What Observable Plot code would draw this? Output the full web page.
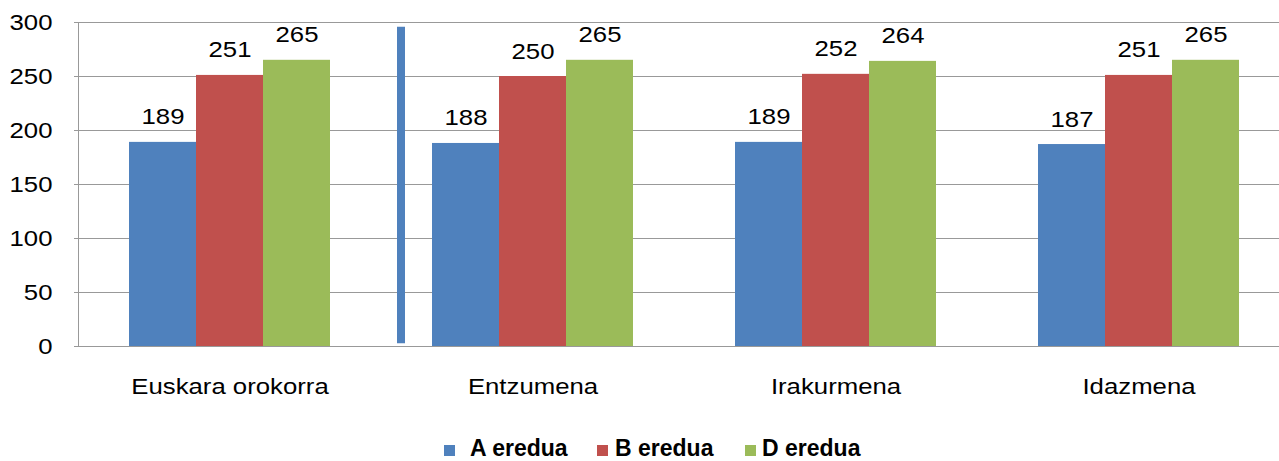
<!DOCTYPE html>
<html><head><meta charset="utf-8">
<script src="https://cdn.jsdelivr.net/npm/d3@7"></script>
<script src="https://cdn.jsdelivr.net/npm/@observablehq/plot@0.6"></script>
<style>
html,body{margin:0;padding:0;background:#fff;overflow:hidden;width:1279px;height:461px;}
#chart{position:absolute;left:0;top:0;width:1290px;}
#chart svg{max-width:none !important;}
#legend{position:absolute;left:0;top:430px;width:1279px;height:31px;font-family:"Liberation Sans",Arial,sans-serif;font-weight:bold;font-size:23px;color:#000;}
.sw{position:absolute;top:15px;width:11px;height:11px;}
.lt{position:absolute;top:5px;line-height:26px;white-space:nowrap;}
</style></head><body>
<div id="chart"></div><div id="legend"></div>
<script>
const groups = ["Euskara orokorra", "Entzumena", "Irakurmena", "Idazmena"];
const seriesNames = ["A eredua", "B eredua", "D eredua"];
const valuesA = [189, 188, 189, 187];
const valuesB = [251, 250, 252, 251];
const valuesD = [265, 265, 264, 265];
const colors = ["#4f81bd", "#c0504d", "#9bbb59"];
const yTicks = [0, 50, 100, 150, 200, 250, 300];
const separator = [{group: "Entzumena", from: 2.5, to: 295.5}];

const rows = [];
[valuesA, valuesB, valuesD].forEach((vals, si) =>
  vals.forEach((v, gi) => rows.push({group: groups[gi], series: seriesNames[si], value: v})));

const gray = "#999999";
const chart = Plot.plot({
  width: 1290, height: 425,
  marginLeft: 78, marginRight: 0, marginTop: 22, marginBottom: 79,
  style: {fontFamily: '"Liberation Sans", Arial, sans-serif', fontSize: "23px", color: "#000", background: "#fff", overflow: "visible", maxWidth: "none"},
  fx: {domain: groups, padding: 0, label: null},
  x: {domain: seriesNames, paddingInner: 0, paddingOuter: 0.75, axis: null},
  y: {domain: [0, 300], label: null},
  color: {domain: seriesNames, range: colors},
  marks: [
    Plot.gridY(yTicks, {stroke: gray, strokeOpacity: 1}),
    Plot.ruleY([0], {stroke: gray}),
    Plot.frame({anchor: "left", facetAnchor: "left", stroke: gray}),
    Plot.barY(rows, {fx: "group", x: "series", y: "value", fill: "series"}),
    Plot.text(rows, {fx: "group", x: "series", y: "value", text: d => String(d.value), lineAnchor: "bottom", dy: -18, fill: "#000", fontSize: 23}),
    Plot.ruleX(separator, {fx: "group", x: () => "A eredua", y1: "from", y2: "to", dx: -65, stroke: "#4f81bd", strokeWidth: 8}),
    Plot.axisY(yTicks, {tickSize: 4, tickPadding: 22, stroke: gray, fill: "#000", fontSize: 23, label: null}),
    Plot.axisFx({anchor: "bottom", tickSize: 0, tickPadding: 31, fill: "#000", fontSize: 23, label: null})
  ]
});
chart.querySelectorAll("text").forEach(t => {
  let tr = t.getAttribute("transform");
  if (!tr) {
    const x = t.getAttribute("x") || 0, y = t.getAttribute("y") || 0;
    t.removeAttribute("x"); t.removeAttribute("y");
    tr = `translate(${x},${y})`;
  }
  t.setAttribute("transform", tr + " scale(1.12,1)");
});
document.getElementById("chart").appendChild(chart);

const legend = document.getElementById("legend");
const swLeft = [444, 597, 745];
const txtLeft = [470, 615, 762];
seriesNames.forEach((s, i) => {
  const sw = document.createElement("div");
  sw.className = "sw"; sw.style.left = swLeft[i] + "px"; sw.style.background = colors[i];
  const tx = document.createElement("div");
  tx.className = "lt"; tx.style.left = txtLeft[i] + "px"; tx.textContent = s;
  legend.appendChild(sw); legend.appendChild(tx);
});
</script></body></html>
